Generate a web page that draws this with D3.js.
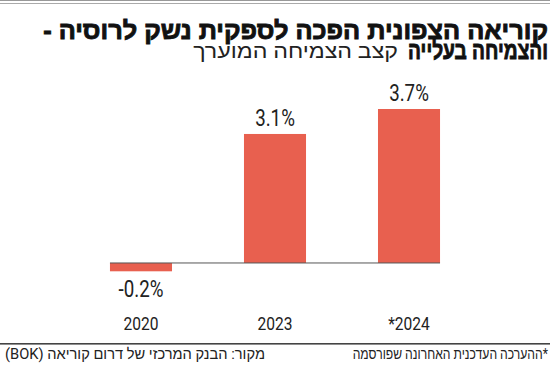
<!DOCTYPE html>
<html lang="he">
<head>
<meta charset="UTF-8">
<title>Chart</title>
<script src="https://cdnjs.cloudflare.com/ajax/libs/d3/7.8.2/d3.min.js"></script>
<style>
  body { margin: 0; background: #fff; }
  svg { display: block; }
  .title { font-family: "Liberation Sans", Arial, sans-serif; font-weight: bold; fill: #111; stroke: #111; stroke-width: 0.9px; }
  .sub { font-family: "Roboto", "Liberation Sans", sans-serif; fill: #222; }
  .val, .year { font-family: "Roboto", sans-serif; fill: #222; }
  .foot { font-family: "Roboto", "Liberation Sans", sans-serif; fill: #222; }
</style>
</head>
<body>
<div id="chart"></div>
<script>
  // data
  const years = ['2020', '2023', '*2024'];
  const growth = [-0.2, 3.1, 3.7];
  const valueLabels = ['-0.2%', '3.1%', '3.7%'];

  const titleLine1 = 'קוריאה הצפונית הפכה לספקית נשק לרוסיה -';
  const titleBold2 = 'והצמיחה בעלייה';
  const subtitle = 'קצב הצמיחה המוערך';
  const note = '*ההערכה העדכנית האחרונה שפורסמה';
  const source = 'מקור: הבנק המרכזי של דרום קוריאה (BOK)';

  const width = 550, height = 365;
  const barColor = '#e8604f';

  const svg = d3.select('#chart').append('svg')
    .attr('width', width).attr('height', height);

  // squeeze a text horizontally around its anchor so it is w px wide
  const fitWidth = (g, w) => {
    const t = g.select('text').node();
    const nat = t.getBBox().width;
    const sx = w / nat;
    const tr = g.attr('data-tr');
    g.attr('transform', `${tr} scale(${sx},1)`);
  };

  // condensed look for the numbers
  const condense = (g, sx) => {
    g.attr('transform', `${g.attr('data-tr')} scale(${sx},1)`);
  };

  const rtlText = (cls, px, py, size, str, w) => {
    const g = svg.append('g').attr('data-tr', `translate(${px},${py})`);
    g.append('text').attr('class', cls)
      .attr('direction', 'rtl').attr('text-anchor', 'start')
      .style('font-size', size + 'px')
      .text(str);
    fitWidth(g, w);
    return g;
  };

  // top rules
  svg.append('rect').attr('x', 0).attr('y', 0).attr('width', width).attr('height', 1).attr('fill', '#999');
  svg.append('rect').attr('x', 0).attr('y', 3).attr('width', width).attr('height', 1).attr('fill', '#aaa');

  // title
  rtlText('title', 548, 39, 25, titleLine1, 505);
  rtlText('title', 548, 59, 25, titleBold2, 140);
  rtlText('sub', 398, 58, 20, subtitle, 205);

  // scales
  const x = d3.scaleBand().domain(years).range([38, 512]).padding(0.537);
  const y = d3.scaleLinear().domain([-0.2, 3.7]).range([271.3, 109]);

  const rows = years.map((yr, i) => ({ year: yr, v: growth[i], label: valueLabels[i] }));

  svg.selectAll('rect.bar').data(rows).enter().append('rect')
    .attr('class', 'bar')
    .attr('x', d => x(d.year))
    .attr('width', x.bandwidth())
    .attr('y', d => Math.min(y(d.v), y(0)))
    .attr('height', d => Math.abs(y(d.v) - y(0)))
    .attr('fill', barColor);

  // zero line
  svg.append('line')
    .attr('x1', x(years[0])).attr('x2', x(years[years.length - 1]) + x.bandwidth())
    .attr('y1', y(0)).attr('y2', y(0))
    .attr('stroke', '#555').attr('stroke-width', 1);

  // value labels
  const vals = svg.selectAll('g.val').data(rows).enter().append('g')
    .attr('class', 'val')
    .attr('data-tr', d => `translate(${x(d.year) + x.bandwidth() / 2},${d.v >= 0 ? y(d.v) - 8 : y(d.v) + 26})`);
  vals.append('text')
    .attr('text-anchor', 'middle')
    .style('font-size', '24px').style('font-weight', 400)
    .text(d => d.label);
  vals.each(function () { condense(d3.select(this), 0.78); });

  // year labels
  const xAxis = d3.axisBottom(x).tickSize(0).tickPadding(0);
  const gx = svg.append('g').attr('transform', 'translate(0,311)').call(xAxis);
  gx.select('.domain').remove();
  gx.selectAll('.tick text')
    .attr('dy', '1em').attr('y', 0)
    .style('font-size', '19px').style('font-family', 'Roboto, sans-serif')
    .attr('fill', '#222')
    .attr('transform', 'scale(0.82,1)');

  // bottom rule + footer
  svg.append('rect').attr('x', 0).attr('y', 343).attr('width', width).attr('height', 1.6).attr('fill', '#444');

  rtlText('foot', 548, 359, 15, note, 196);
  rtlText('foot', 265, 359, 15, source, 260);
</script>
</body>
</html>
